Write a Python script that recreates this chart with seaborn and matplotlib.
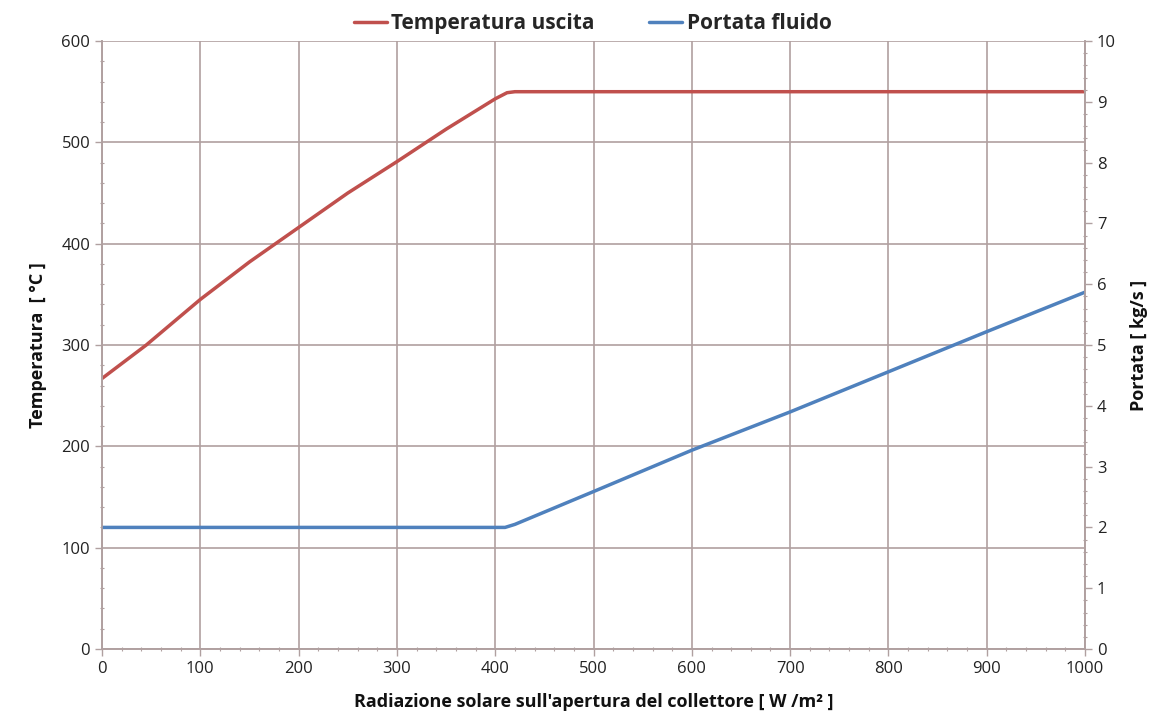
import matplotlib
matplotlib.use("Agg")
import matplotlib.pyplot as plt
import seaborn as sns
import pandas as pd
from matplotlib.ticker import MultipleLocator

# valori
rad_temp = [0, 45, 100, 150, 200, 250, 300, 350, 400, 412, 420, 500, 600, 700, 800, 900, 1000]
temperatura = [267, 300, 345, 382, 416, 450, 481, 513, 543, 549, 550, 550, 550, 550, 550, 550, 550]

rad_port = [0, 100, 200, 300, 400, 410, 420, 500, 600, 700, 800, 900, 1000]
portata = [2.0, 2.0, 2.0, 2.0, 2.0, 2.0, 2.05, 2.59, 3.27, 3.90, 4.56, 5.22, 5.87]

sns.set_theme(style="whitegrid")
plt.rcParams['font.family'] = ['Open Sans', 'DejaVu Sans']

grid_col = '#b0a0a0'
red = '#c0504d'
blue = '#4f81bd'

df_t = pd.DataFrame({'x': rad_temp, 'y': temperatura})
df_p = pd.DataFrame({'x': rad_port, 'y': portata})

fig = plt.figure(figsize=(11.62, 7.2), dpi=100)
ax = fig.add_axes([0.0878, 0.0986, 0.846, 0.8444])
ax2 = ax.twinx()

sns.lineplot(data=df_t, x='x', y='y', ax=ax, color=red, linewidth=2.5, label='Temperatura uscita', legend=False)
sns.lineplot(data=df_p, x='x', y='y', ax=ax2, color=blue, linewidth=2.5, label='Portata fluido', legend=False)

ax.set_xlim(0, 1000)
ax.set_ylim(0, 600)
ax2.set_ylim(0, 10)
ax.xaxis.set_major_locator(MultipleLocator(100))
ax.xaxis.set_minor_locator(MultipleLocator(20))
ax.yaxis.set_major_locator(MultipleLocator(100))
ax.yaxis.set_minor_locator(MultipleLocator(20))
ax2.yaxis.set_major_locator(MultipleLocator(1))
ax2.yaxis.set_minor_locator(MultipleLocator(0.2))

ax.grid(True, which='major', color=grid_col, linewidth=1.2)
ax2.grid(False)
for a in (ax, ax2):
    for side, sp in a.spines.items():
        sp.set_color(grid_col)
        sp.set_linewidth(1.2)
    a.spines['top'].set_visible(False)
    a.tick_params(which='major', length=5, width=1, color=grid_col, labelsize=12, labelcolor='#222222')
    a.tick_params(which='minor', length=3, width=0.8, color=grid_col, direction='inout')
ax.tick_params(axis='x', which='both', bottom=True)
ax.tick_params(axis='y', which='both', left=True)
ax2.tick_params(axis='y', which='both', right=True)

ax.set_xlabel("Radiazione solare sull'apertura del collettore [ W /m\u00b2 ]", fontsize=13, fontweight='bold', color='#111111', labelpad=12)
ax.set_ylabel("Temperatura  [ \u00b0C ]", fontsize=13, fontweight='bold', color='#111111', labelpad=10)
ax2.set_ylabel("Portata [ kg/s ]", fontsize=13, fontweight='bold', color='#111111', labelpad=10)

handles = ax.get_lines()[:1] + ax2.get_lines()[:1]
fig.legend(handles, ['Temperatura uscita', 'Portata fluido'], loc='upper center',
           bbox_to_anchor=(0.51, 1.008), ncol=2, frameon=False, handlelength=1.6,
           handletextpad=0.2, columnspacing=2.6, prop={'weight': 'bold', 'size': 15})

fig.savefig('out.png', dpi=100)
plt.close(fig)
